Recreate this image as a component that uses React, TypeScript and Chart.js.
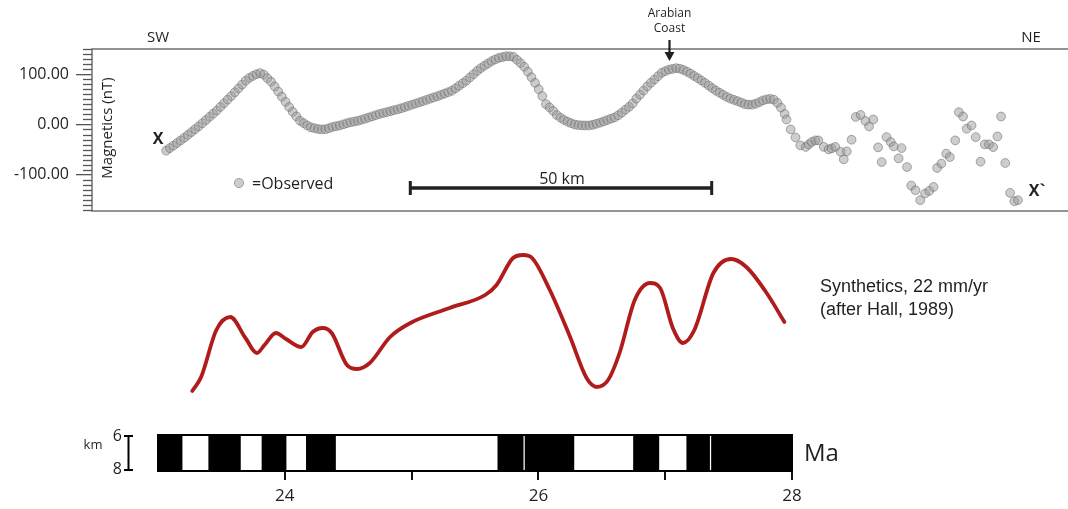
import React, { useEffect, useRef } from 'react';
import { Chart, registerables } from 'chart.js';

Chart.register(...registerables);

// ---------------- DATA ----------------
// Observed magnetic profile (distance along profile in km, anomaly in nT)
const obsKm = [
  12.3, 12.9, 13.5, 14.1, 14.7, 15.3, 15.9, 16.5, 17.1, 17.7, 18.3, 18.9, 19.5, 20.1, 20.7,
  21.3, 21.9, 22.5, 23.1, 23.7, 24.3, 24.9, 25.5, 26.1, 26.7, 27.3, 27.9, 28.5, 29.1, 29.7,
  30.3, 30.9, 31.5, 32.1, 32.7, 33.3, 33.9, 34.5, 35.1, 35.7, 36.3, 36.9, 37.5, 38.1, 38.7,
  39.3, 39.9, 40.5, 41.1, 41.7, 42.3, 42.9, 43.5, 44.1, 44.7, 45.3, 45.9, 46.5, 47.1, 47.7,
  48.3, 48.9, 49.5, 50.1, 50.7, 51.3, 51.9, 52.5, 53.1, 53.7, 54.3, 54.9, 55.5, 56.1, 56.7,
  57.3, 57.9, 58.5, 59.1, 59.7, 60.3, 60.9, 61.5, 62.1, 62.7, 63.3, 63.9, 64.5, 65.1, 65.7,
  66.3, 66.9, 67.5, 68.1, 68.7, 69.3, 69.9, 70.5, 71.1, 71.7, 72.3, 72.9, 73.5, 74.1, 74.7,
  75.3, 75.9, 76.5, 77.1, 77.7, 78.3, 78.9, 79.5, 80.1, 80.7, 81.3, 81.9, 82.5, 83.1, 83.7,
  84.3, 84.9, 85.5, 86.1, 86.7, 87.3, 87.9, 88.5, 89.1, 89.7, 90.3, 90.9, 91.5, 92.1, 92.7,
  93.3, 93.9, 94.5, 95.1, 95.7, 96.3, 96.9, 97.5, 98.1, 98.7, 99.3, 99.9, 100.5, 101.1, 101.7,
  102.3, 102.9, 103.5, 104.1, 104.7, 105.3, 105.9, 106.5, 107.1, 107.7, 108.3, 108.9, 109.5, 110.1, 110.7,
  111.3, 111.9, 112.5, 113.1, 113.7, 114.3, 114.9,
  115.2, 115.9, 116.7, 117.5, 118.4, 118.9, 119.4, 120.0, 120.5, 121.4, 122.2, 122.7, 123.3, 124.2, 124.7,
  125.2, 126.0, 126.7, 127.5, 128.3, 128.9, 129.6, 130.4, 131.0, 131.8, 132.5, 133.0, 133.8, 134.3, 135.2,
  135.9, 136.6, 137.4, 138.2, 138.9, 139.6, 140.2, 140.9, 141.7, 142.3, 143.2, 143.8, 144.5, 145.1, 145.9,
  146.6, 147.4, 148.1, 148.8, 149.5, 150.2, 150.8, 151.5, 152.3, 153.0, 153.6,
];
const obsNt = [
  -52.1, -47.0, -42.0, -36.9, -31.8, -26.5, -20.8, -15.1, -9.4, -3.7, 2.4, 8.7, 15.1, 21.4, 27.7,
  34.9, 42.1, 49.3, 56.5, 64.0, 71.6, 79.3, 87.0, 92.5, 96.5, 100, 102, 99, 92, 85,
  75.6, 65.4, 55.2, 45, 34.7, 24.9, 16, 7.4, 2.8, -2, -5.6, -7.4, -9, -9.8, -9.5,
  -7.5, -5, -3.5, -2, 0.3, 2.5, 4.4, 5.8, 7.3, 9.2, 11.5, 13.9, 16.2, 18.5, 20.9,
  22.7, 24.6, 26.4, 28.3, 30.1, 32.2, 34.6, 36.9, 39.3, 41.6, 44, 46.4, 48.8, 51.3, 53.7,
  56.1, 58.7, 61.5, 64.2, 67, 71.8, 76.9, 82, 87.1, 93.5, 99.9, 106.4, 112, 116.7, 121.3,
  126, 129.3, 132.4, 134, 135.6, 135.5, 134.4, 128.4, 122, 114.7, 104.9, 93.9, 82.6, 70, 56.5,
  40.4, 33.9, 27, 18.8, 13.4, 9, 5.4, 2.4, -0.1, -1.3, -1.8, -2, -2, -0.6, 1.4,
  3.5, 6.3, 8.9, 11.4, 14, 18.3, 23.7, 29.4, 35.1, 41.8, 51.4, 59.4, 67.5, 75.5, 82.7,
  89.3, 95.9, 102.6, 105.9, 109, 110.5, 111.9, 110.9, 108.5, 104.9, 100.9, 96.4, 91.9, 87.4, 82.5,
  77.3, 72.2, 67.2, 63.1, 58.9, 54.8, 51.3, 48.8, 46.3, 43.4, 40.3, 39.4, 39.4, 41.2, 44.2,
  47.8, 50, 50.8, 49.4, 42.8, 33.5, 21,
  9.9, -9.9, -25.7, -41.6, -44.6, -39.6, -34.7, -31.7, -31.7, -44.6, -49.5, -47.5, -44.6, -54.5, -69.3,
  -53.5, -30.3, 14.9, 18.8, 6.9, -4, 9.9, -45.5, -74.7, -25.1, -35, -43.6, -67.3, -46.9, -84.6,
  -121.4, -130.7, -150.5, -137.2, -132.1, -124.2, -86.5, -77.8, -58, -64.8, -31.7, 24.4, 15.8, -8.5, -2,
  -25.1, -74, -39.6, -39.6, -44.9, -23.8, 15.8, -76.6, -136, -152.5, -150.5,
];
const nTTicks = [-100, 0, 100];

// Synthetic anomaly (age in Ma, relative amplitude)
const synAge = [
  23.27, 23.34, 23.46, 23.57, 23.69, 23.78, 23.84, 23.93, 24.01, 24.13, 24.22, 24.30, 24.37, 24.49,
  24.57, 24.67, 24.83, 24.99, 25.30, 25.58, 25.67, 25.80, 25.88, 25.95, 26.09, 26.25, 26.38, 26.46,
  26.55, 26.64, 26.76, 26.88, 26.96, 27.06, 27.14, 27.23, 27.38, 27.52, 27.64, 27.80, 27.94,
];
const synAmp = [
  9, 23, 70, 83, 62, 47, 55, 67, 61, 53, 68, 72, 67, 35,
  31, 37, 63, 77, 92, 105, 115, 142, 145, 142, 110, 63, 22, 13,
  20, 47, 100, 117, 112, 72, 57, 70, 127, 141, 133, 107, 78,
];

// Normal polarity intervals (black blocks), Ma
const normalStart = [23.0, 23.40, 23.82, 24.17, 25.68, 25.895, 26.75, 27.17, 27.365];
const normalEnd = [23.19, 23.65, 24.01, 24.40, 25.88, 26.28, 26.95, 27.35, 28.0];
const ageTicks = [24, 25, 26, 27, 28];
const ageLabels = ['24', '', '26', '', '28'];

// ---------------- STYLE ----------------
const FONT = '"Open Sans", "DejaVu Sans", sans-serif';
const ARIAL = '"Liberation Sans", Arial, sans-serif';
const INK = '#231f20';
const PT_FILL = 'rgba(150,150,150,0.48)';
const PT_EDGE = 'rgba(105,105,105,0.55)';

const topDecor = {
  id: 'topDecor',
  beforeDatasetsDraw(chart: any) {
    const { ctx, chartArea: a, scales } = chart;
    const y = scales.y;
    ctx.save();
    ctx.strokeStyle = '#707070';
    ctx.lineWidth = 1.5;
    ctx.strokeRect(a.left, a.top, a.right - a.left, a.bottom - a.top);
    ctx.strokeStyle = '#555';
    ctx.lineWidth = 1.3;
    for (let v = -170; v <= 150; v += 10) {
      if (v % 100 === 0) continue;
      const py = Math.round(y.getPixelForValue(v)) + 0.5;
      ctx.beginPath();
      ctx.moveTo(a.left - 9, py);
      ctx.lineTo(a.left, py);
      ctx.stroke();
    }
    ctx.restore();
  },
  afterDraw(chart: any) {
    const { ctx, scales } = chart;
    const xs = scales.x;
    ctx.save();
    ctx.fillStyle = INK;
    ctx.strokeStyle = INK;
    ctx.textBaseline = 'middle';
    ctx.textAlign = 'center';
    ctx.font = `15px ${FONT}`;
    ctx.fillText('SW', 158, 38);
    ctx.fillText('NE', 1031, 38);
    // Arabian coast
    const ax = Math.round(xs.getPixelForValue(95.7)) + 0.5;
    ctx.font = `12px ${FONT}`;
    ctx.fillText('Arabian', ax, 14);
    ctx.fillText('Coast', ax, 29);
    ctx.lineWidth = 2.2;
    ctx.beginPath();
    ctx.moveTo(ax, 40);
    ctx.lineTo(ax, 54);
    ctx.stroke();
    ctx.beginPath();
    ctx.moveTo(ax - 5, 52);
    ctx.lineTo(ax + 5, 52);
    ctx.lineTo(ax, 61);
    ctx.closePath();
    ctx.fill();
    // X labels
    ctx.font = `bold 16px ${FONT}`;
    ctx.fillText('X', 158, 139);
    ctx.fillText('X`', 1037, 191);
    // y title inside box
    ctx.save();
    ctx.translate(108, 128);
    ctx.rotate(-Math.PI / 2);
    ctx.font = `15px ${FONT}`;
    ctx.fillText('Magnetics (nT)', 0, 0);
    ctx.restore();
    // legend
    ctx.beginPath();
    ctx.arc(239, 183, 4.6, 0, Math.PI * 2);
    ctx.fillStyle = PT_FILL;
    ctx.fill();
    ctx.strokeStyle = PT_EDGE;
    ctx.lineWidth = 1;
    ctx.stroke();
    ctx.fillStyle = INK;
    ctx.strokeStyle = INK;
    ctx.textAlign = 'left';
    ctx.font = `16px ${FONT}`;
    ctx.fillText('=Observed', 252, 184);
    // scale bar 50 km
    const x0 = xs.getPixelForValue(52.8);
    const x1 = xs.getPixelForValue(102.8);
    ctx.lineWidth = 3.5;
    ctx.beginPath();
    ctx.moveTo(x0, 188);
    ctx.lineTo(x1, 188);
    ctx.stroke();
    ctx.lineWidth = 3;
    ctx.beginPath();
    ctx.moveTo(x0, 181);
    ctx.lineTo(x0, 195);
    ctx.moveTo(x1, 181);
    ctx.lineTo(x1, 195);
    ctx.stroke();
    ctx.textAlign = 'center';
    ctx.fillText('50 km', (x0 + x1) / 2 + 1, 179);
    ctx.restore();
  },
};

const midDecor = {
  id: 'midDecor',
  afterDraw(chart: any) {
    const { ctx } = chart;
    ctx.save();
    ctx.fillStyle = INK;
    ctx.textBaseline = 'middle';
    ctx.textAlign = 'left';
    ctx.font = `18px ${ARIAL}`;
    ctx.fillText('Synthetics, 22 mm/yr', 820, 57);
    ctx.fillText('(after Hall, 1989)', 820, 80);
    ctx.restore();
  },
};

const botDecor = {
  id: 'botDecor',
  afterDraw(chart: any) {
    const { ctx, chartArea: a } = chart;
    ctx.save();
    ctx.strokeStyle = '#000';
    ctx.lineWidth = 2;
    ctx.strokeRect(a.left, a.top, a.right - a.left, a.bottom - a.top);
    ctx.fillStyle = INK;
    ctx.textBaseline = 'middle';
    ctx.font = `24px ${FONT}`;
    ctx.textAlign = 'left';
    ctx.fillText('Ma', a.right + 12, 44);
    // km depth bar
    ctx.textAlign = 'center';
    ctx.font = `13px ${FONT}`;
    ctx.fillText('km', 93, 35);
    ctx.font = `16px ${FONT}`;
    ctx.textAlign = 'right';
    ctx.fillText('6', 122, 26);
    ctx.fillText('8', 122, 59);
    ctx.lineWidth = 2;
    ctx.beginPath();
    ctx.moveTo(128.5, a.top);
    ctx.lineTo(128.5, a.bottom);
    ctx.moveTo(124, a.top + 1);
    ctx.lineTo(133, a.top + 1);
    ctx.moveTo(124, a.bottom - 1);
    ctx.lineTo(133, a.bottom - 1);
    ctx.stroke();
    ctx.restore();
  },
};

export default function App() {
  const topRef = useRef<HTMLCanvasElement>(null);
  const midRef = useRef<HTMLCanvasElement>(null);
  const botRef = useRef<HTMLCanvasElement>(null);

  useEffect(() => {
    const charts: Chart[] = [];

    charts.push(
      new Chart(topRef.current as HTMLCanvasElement, {
        type: 'scatter',
        data: {
          datasets: [
            {
              data: obsKm.map((x, i) => ({ x, y: obsNt[i] })),
              pointRadius: 4.4,
              backgroundColor: PT_FILL,
              borderColor: PT_EDGE,
              borderWidth: 1,
            },
          ],
        },
        options: {
          animation: false,
          responsive: false,
          events: [],
          layout: { padding: { top: 49, bottom: 19, left: 0, right: 4 } },
          plugins: { legend: { display: false }, tooltip: { enabled: false } },
          scales: {
            x: { type: 'linear', min: 0, max: 163, display: false },
            y: {
              type: 'linear',
              min: -172,
              max: 150,
              afterFit: (s: any) => {
                s.width = 92;
              },
              afterBuildTicks: (s: any) => {
                s.ticks = nTTicks.map((v) => ({ value: v }));
              },
              ticks: {
                callback: (v: any) => Number(v).toFixed(2),
                font: { family: FONT, size: 16 },
                color: INK,
                padding: 7,
              },
              grid: { drawOnChartArea: false, tickLength: 16, color: '#555', lineWidth: 1.3 },
              border: { display: false },
            },
          },
        },
        plugins: [topDecor],
      } as any)
    );

    charts.push(
      new Chart(midRef.current as HTMLCanvasElement, {
        type: 'line',
        data: {
          datasets: [
            {
              data: synAge.map((x, i) => ({ x, y: synAmp[i] })),
              borderColor: '#b01c1c',
              borderWidth: 3.8,
              pointRadius: 0,
              cubicInterpolationMode: 'monotone',
              borderCapStyle: 'round',
              borderJoinStyle: 'round',
              fill: false,
              clip: false,
            },
          ],
        },
        options: {
          animation: false,
          responsive: false,
          events: [],
          layout: { padding: { left: 158, right: 276, top: 20, bottom: 10 } },
          plugins: { legend: { display: false }, tooltip: { enabled: false } },
          scales: {
            x: { type: 'linear', min: 23, max: 28, display: false },
            y: { type: 'linear', min: 0, max: 150, display: false },
          },
        },
        plugins: [midDecor],
      } as any)
    );

    charts.push(
      new Chart(botRef.current as HTMLCanvasElement, {
        type: 'bar',
        data: {
          labels: ['polarity'],
          datasets: normalStart.map((s, i) => ({
            data: [[s, normalEnd[i]]],
            backgroundColor: '#000',
            borderWidth: 0,
            barPercentage: 1,
            categoryPercentage: 1,
            grouped: false,
          })),
        },
        options: {
          animation: false,
          responsive: false,
          events: [],
          indexAxis: 'y',
          layout: { padding: { left: 158, right: 276, top: 25, bottom: 0 } },
          plugins: { legend: { display: false }, tooltip: { enabled: false } },
          scales: {
            x: {
              type: 'linear',
              min: 23,
              max: 28,
              afterFit: (s: any) => {
                s.height = 38;
              },
              afterBuildTicks: (s: any) => {
                s.ticks = ageTicks.map((v) => ({ value: v }));
              },
              ticks: {
                callback: (_v: any, i: number) => ageLabels[i],
                font: { family: FONT, size: 17 },
                color: INK,
                padding: 6,
                maxRotation: 0,
                autoSkip: false,
              },
              grid: { drawOnChartArea: false, tickLength: 9, color: '#111', lineWidth: 2 },
              border: { display: false },
            },
            y: { display: false },
          },
        },
        plugins: [botDecor],
      } as any)
    );

    return () => charts.forEach((c) => c.destroy());
  }, []);

  return (
    <div
      style={{
        position: 'absolute',
        left: 0,
        top: 0,
        width: 1068,
        height: 509,
        overflow: 'hidden',
        background: '#fff',
      }}
    >
      <canvas
        ref={topRef}
        width={1080}
        height={230}
        style={{ position: 'absolute', left: 0, top: 0, width: 1080, height: 230 }}
      />
      <canvas
        ref={midRef}
        width={1068}
        height={180}
        style={{ position: 'absolute', left: 0, top: 230, width: 1068, height: 180 }}
      />
      <canvas
        ref={botRef}
        width={1068}
        height={99}
        style={{ position: 'absolute', left: 0, top: 410, width: 1068, height: 99 }}
      />
    </div>
  );
}
